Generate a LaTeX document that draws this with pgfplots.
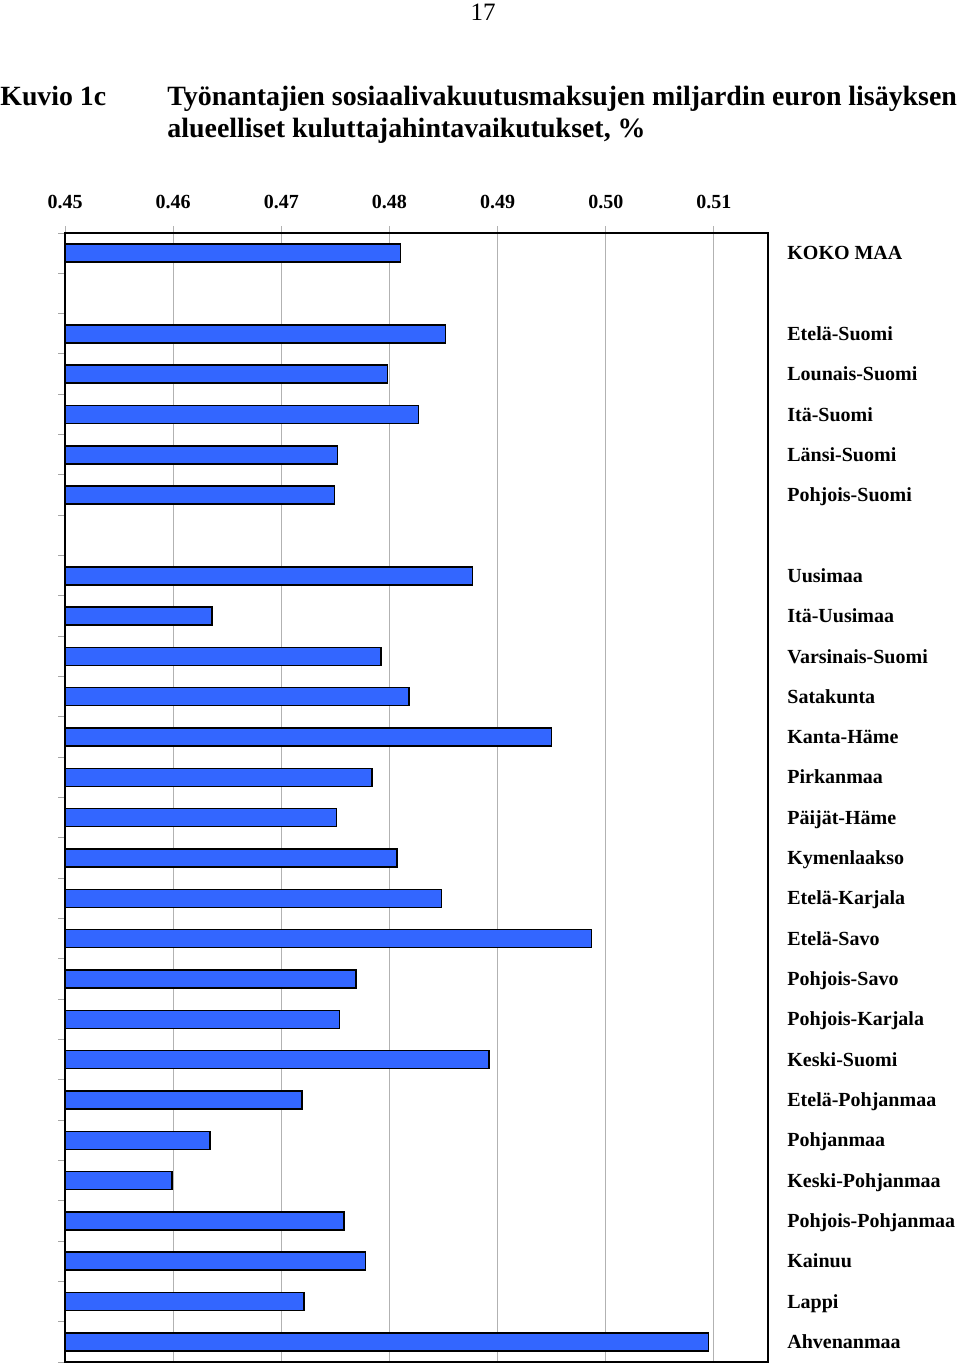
\documentclass[border=0pt]{standalone}
\usepackage{fontspec}
\setmainfont{Liberation Serif}
\usepackage{pgfplots}
\pgfplotsset{compat=1.18}
\definecolor{barblue}{RGB}{51,102,255}
\begin{document}
\begin{tikzpicture}
\useasboundingbox (0pt,0pt) rectangle (480pt,-683pt);
\node[anchor=base] at (241.5pt,-10pt) {\fontsize{12.5}{14}\selectfont 17};
\node[anchor=base west,inner sep=0pt] at (0pt,-52.5pt) {\fontsize{13.9}{16}\selectfont\bfseries Kuvio 1c};
\node[anchor=base west,inner sep=0pt] at (83.5pt,-52.5pt) {\fontsize{13.95}{16}\selectfont\bfseries Työnantajien sosiaalivakuutusmaksujen miljardin euron lisäyksen};
\node[anchor=base west,inner sep=0pt] at (83.5pt,-68.5pt) {\fontsize{13.95}{16}\selectfont\bfseries alueelliset kuluttajahintavaikutukset, \%};
\begin{axis}[
  at={(32.5pt,-116.5pt)}, anchor=north west,
  scale only axis, width=351.5pt, height=564.5pt,
  xmin=0.45, xmax=0.515,
  ymin=-0.5, ymax=27.5, y dir=reverse,
  axis line style={black, line width=1pt},
  xtick={0.45,0.46,0.47,0.48,0.49,0.50,0.51},
  xticklabels={0.45,0.46,0.47,0.48,0.49,0.50,0.51},
  xticklabel pos=top,
  xtick pos=top,
  xmajorgrids,
  grid style={gray!60, line width=0.5pt},
  x tick style={gray!60, line width=0.5pt},
  tick align=outside,
  major tick length=3.5pt,
  xticklabel style={font=\bfseries\fontsize{10}{12}\selectfont, anchor=base, yshift=9pt},
  ytick={0,2,3,4,5,6,8,9,10,11,12,13,14,15,16,17,18,19,20,21,22,23,24,25,26,27},
  yticklabels={KOKO MAA,Etelä-Suomi,Lounais-Suomi,Itä-Suomi,Länsi-Suomi,Pohjois-Suomi,Uusimaa,Itä-Uusimaa,Varsinais-Suomi,Satakunta,Kanta-Häme,Pirkanmaa,Päijät-Häme,Kymenlaakso,Etelä-Karjala,Etelä-Savo,Pohjois-Savo,Pohjois-Karjala,Keski-Suomi,Etelä-Pohjanmaa,Pohjanmaa,Keski-Pohjanmaa,Pohjois-Pohjanmaa,Kainuu,Lappi,Ahvenanmaa},
  yticklabel pos=right,
  ytick pos=left,
  y tick style={draw=none},
  minor ytick={-0.5,0.5,...,27.5},
  minor y tick style={draw=gray!70, line width=0.5pt},
  minor tick length=3.5pt,
  yticklabel style={font=\bfseries\fontsize{10}{12}\selectfont, anchor=base west, inner sep=0pt, xshift=6pt, yshift=-3.3pt},
  clip=true,
]
\addplot[xbar, bar width=9pt, fill=barblue, draw=black, line width=0.75pt] coordinates {
(0.4810,0)
(0.4852,2)
(0.4798,3)
(0.4827,4)
(0.4752,5)
(0.4749,6)
(0.4877,8)
(0.4636,9)
(0.4792,10)
(0.4818,11)
(0.4950,12)
(0.4784,13)
(0.4751,14)
(0.4807,15)
(0.4848,16)
(0.4987,17)
(0.4769,18)
(0.4754,19)
(0.4892,20)
(0.4719,21)
(0.4634,22)
(0.4599,23)
(0.4758,24)
(0.4778,25)
(0.4721,26)
(0.5095,27)
};
\end{axis}
\end{tikzpicture}
\end{document}
